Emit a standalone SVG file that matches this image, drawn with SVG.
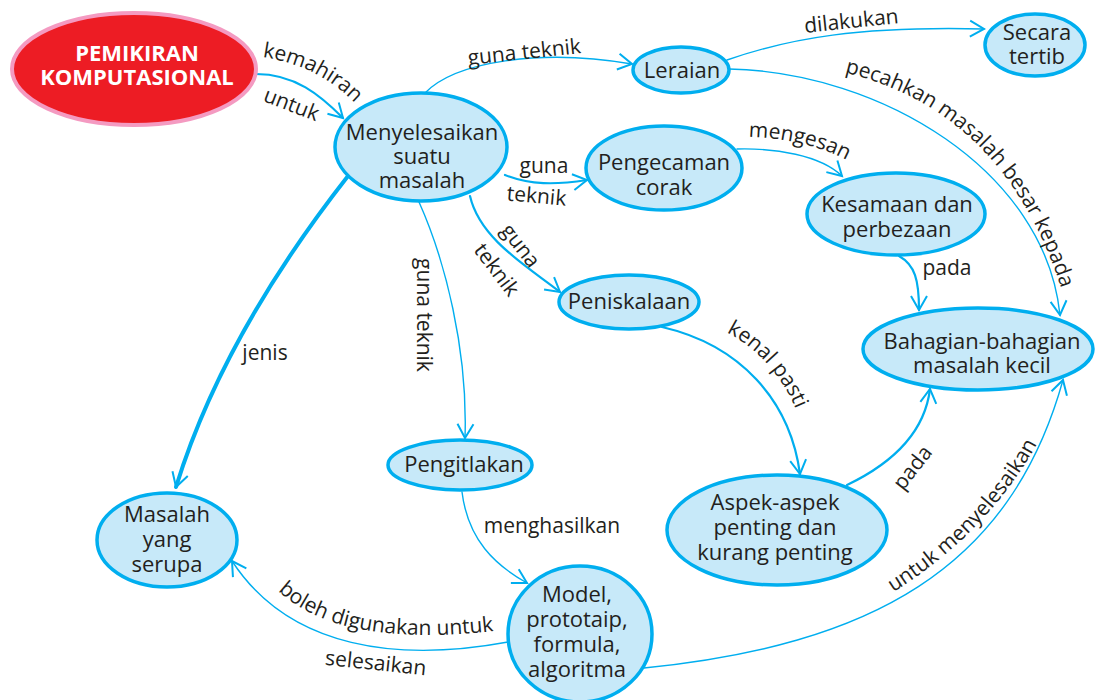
<svg xmlns="http://www.w3.org/2000/svg" width="1103" height="700" viewBox="0 0 1103 700">
  <style>
    .node ellipse { fill: #C7E9F9; stroke: #00AEEF; stroke-width: 3.5; }
    .node text { font-family: "Open Sans", "Liberation Sans", sans-serif; font-size: 22px; fill: #231F20; text-anchor: middle; }
    .root ellipse { fill: #ED1C24; stroke: #F49AC1; stroke-width: 4; }
    .root text { font-family: "Open Sans", "Liberation Sans", sans-serif; font-size: 22px; font-weight: bold; fill: #FFFFFF; text-anchor: middle; }
    .edge { fill: none; stroke: #00AEEF; stroke-linecap: round; marker-end: url(#arr); }
    .thin { stroke-width: 1.4; }
    .mid { stroke-width: 2.2; }
    .thick { stroke-width: 4; }
    .lbl { font-family: "Open Sans", "Liberation Sans", sans-serif; font-size: 21px; fill: #231F20; }
  </style>
  <defs>
    <marker id="arr" markerUnits="userSpaceOnUse" markerWidth="24" markerHeight="24" viewBox="-18 -12 24 24" refX="0" refY="0" orient="auto">
      <path d="M-14,-8 L0,0 L-14,8" fill="none" stroke="#00AEEF" stroke-width="2"/>
    </marker>
    <!-- baselines for curved labels -->
    <path id="lp-kemahiran" d="M261,57 C 300,62 330,78 356,104"/>
    <path id="lp-pecahkan" d="M833,70 C 930,90 1020,150 1065,300"/>
    <path id="lp-mengesan" d="M745,137 C 780,137 820,145 850,162"/>
    <path id="lp-kenal" d="M716,328 C 750,340 785,375 800,420"/>
    <path id="lp-untukmeny" d="M880,600 C 950,560 1010,500 1044,430"/>
    <path id="lp-boleh" d="M272,585 C 310,625 380,645 502,630"/>
  </defs>

  <!-- connectors -->
  <g id="connectors">
    <path class="edge mid" d="M256,74 C 295,74 320,95 343,118"/>
    <path class="edge thin" d="M425,93 C 455,62 540,48 632,64"/>
    <path class="edge thin" d="M727,60 C 790,38 860,26 984,29"/>
    <path class="edge thin" d="M729,69 C 880,72 1045,170 1060,315"/>
    <path class="edge mid" d="M505,175 C 530,185 555,185 587,180"/>
    <path class="edge thin" d="M737,149 C 775,148 820,155 842,176"/>
    <path class="edge mid" d="M899,256 C 915,265 919,280 919,310"/>
    <path class="edge mid" d="M470,196 C 480,240 530,268 560,292"/>
    <path class="edge thin" d="M419,202 C 445,260 468,350 465,438"/>
    <path class="edge thick" d="M348,176 C 290,250 215,360 176,487"/>
    <path class="edge mid" d="M662,327 C 740,345 790,400 800,474"/>
    <path class="edge mid" d="M847,485 C 895,462 925,430 930,389"/>
    <path class="edge thin" d="M644,668 C 870,645 1010,570 1063,380"/>
    <path class="edge thin" d="M508,642 C 400,662 290,650 232,561"/>
    <path class="edge thin" d="M462,492 C 468,540 495,565 527,583"/>

    <!-- connector labels -->
    <text class="lbl"><textPath href="#lp-kemahiran" startOffset="50%" text-anchor="middle">kemahiran</textPath></text>
    <text class="lbl" text-anchor="middle" transform="translate(289,111) rotate(21)">untuk</text>
    <text class="lbl" text-anchor="middle" transform="translate(525,59) rotate(-6)">guna teknik</text>
    <text class="lbl" text-anchor="middle" transform="translate(852,28) rotate(-6)">dilakukan</text>
    <text class="lbl"><textPath href="#lp-pecahkan" startOffset="50%" text-anchor="middle">pecahkan masalah besar kepada</textPath></text>
    <text class="lbl" text-anchor="middle" x="544" y="173">guna</text>
    <text class="lbl" text-anchor="middle" transform="translate(536,203) rotate(5)">teknik</text>
    <text class="lbl"><textPath href="#lp-mengesan" startOffset="50%" text-anchor="middle">mengesan</textPath></text>
    <text class="lbl" text-anchor="middle" x="947" y="275">pada</text>
    <text class="lbl" text-anchor="middle" transform="translate(515,250) rotate(52)">guna</text>
    <text class="lbl" text-anchor="middle" transform="translate(491,274) rotate(53)">teknik</text>
    <text class="lbl" text-anchor="middle" transform="translate(417,315) rotate(90)">guna teknik</text>
    <text class="lbl" text-anchor="middle" x="265" y="360">jenis</text>
    <text class="lbl"><textPath href="#lp-kenal" startOffset="50%" text-anchor="middle">kenal pasti</textPath></text>
    <text class="lbl" text-anchor="middle" transform="translate(918,472) rotate(-52)">pada</text>
    <text class="lbl"><textPath href="#lp-untukmeny" startOffset="50%" text-anchor="middle">untuk menyelesaikan</textPath></text>
    <text class="lbl"><textPath href="#lp-boleh" startOffset="50%" text-anchor="middle">boleh digunakan untuk</textPath></text>
    <text class="lbl" text-anchor="middle" transform="translate(375,670) rotate(6)">selesaikan</text>
    <text class="lbl" text-anchor="middle" x="552" y="533">menghasilkan</text>
  </g>

  <!-- nodes -->
  <g id="pemikiran-komputasional" class="root">
    <ellipse cx="134" cy="69" rx="122" ry="56"/>
    <text x="137" y="61">PEMIKIRAN</text>
    <text x="137" y="85">KOMPUTASIONAL</text>
  </g>
  <g id="menyelesaikan-masalah" class="node">
    <ellipse cx="421" cy="147" rx="86" ry="54"/>
    <text x="422" y="140">Menyelesaikan</text>
    <text x="422" y="164">suatu</text>
    <text x="422" y="188">masalah</text>
  </g>
  <g id="leraian" class="node">
    <ellipse cx="681" cy="70" rx="48" ry="23"/>
    <text x="682" y="78">Leraian</text>
  </g>
  <g id="secara-tertib" class="node">
    <ellipse cx="1035" cy="45" rx="50" ry="31"/>
    <text x="1037" y="40">Secara</text>
    <text x="1037" y="64">tertib</text>
  </g>
  <g id="pengecaman-corak" class="node">
    <ellipse cx="664" cy="168" rx="78" ry="42"/>
    <text x="664" y="170">Pengecaman</text>
    <text x="664" y="195">corak</text>
  </g>
  <g id="kesamaan-perbezaan" class="node">
    <ellipse cx="896" cy="214" rx="89" ry="41"/>
    <text x="897" y="212">Kesamaan dan</text>
    <text x="897" y="237">perbezaan</text>
  </g>
  <g id="bahagian-masalah-kecil" class="node">
    <ellipse cx="978" cy="349" rx="115" ry="41"/>
    <text x="982" y="349">Bahagian-bahagian</text>
    <text x="982" y="373">masalah kecil</text>
  </g>
  <g id="peniskalaan" class="node">
    <ellipse cx="629" cy="302" rx="70" ry="27"/>
    <text x="629" y="309">Peniskalaan</text>
  </g>
  <g id="pengitlakan" class="node">
    <ellipse cx="460" cy="465" rx="72" ry="25"/>
    <text x="464" y="472">Pengitlakan</text>
  </g>
  <g id="masalah-serupa" class="node">
    <ellipse cx="167" cy="540" rx="70" ry="47"/>
    <text x="167" y="522">Masalah</text>
    <text x="167" y="547">yang</text>
    <text x="167" y="572">serupa</text>
  </g>
  <g id="aspek-penting" class="node">
    <ellipse cx="777" cy="530" rx="110" ry="55"/>
    <text x="775" y="510">Aspek-aspek</text>
    <text x="775" y="535">penting dan</text>
    <text x="775" y="560">kurang penting</text>
  </g>
  <g id="model-algoritma" class="node">
    <ellipse cx="580" cy="634" rx="72" ry="68"/>
    <text x="577" y="602">Model,</text>
    <text x="577" y="627">prototaip,</text>
    <text x="577" y="652">formula,</text>
    <text x="577" y="677">algoritma</text>
  </g>
</svg>
